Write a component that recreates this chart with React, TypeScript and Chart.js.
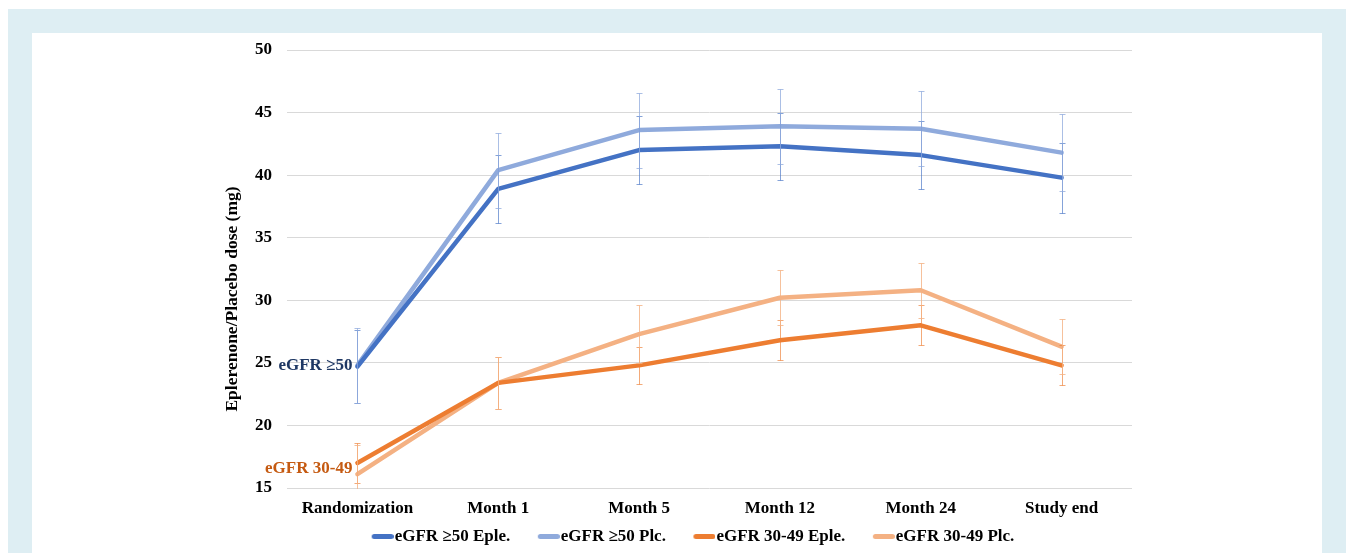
import React, { useEffect, useRef } from "react";
import { Chart, registerables } from "chart.js";

Chart.register(...registerables);

// ---- data ----
const categories = ["Randomization", "Month 1", "Month 5", "Month 12", "Month 24", "Study end"];
const seriesNames = ["eGFR ≥50 Eple.", "eGFR ≥50 Plc.", "eGFR 30-49 Eple.", "eGFR 30-49 Plc."];
const high50Eple = [24.7, 38.9, 42.0, 42.3, 41.6, 39.8];
const high50Plc = [24.8, 40.4, 43.6, 43.9, 43.7, 41.8];
const low3049Eple = [17.0, 23.4, 24.8, 26.8, 28.0, 24.8];
const low3049Plc = [16.1, 23.4, 27.3, 30.2, 30.8, 26.3];
const err50Eple = [2.9, 2.7, 2.7, 2.7, 2.7, 2.8];
const err50Plc = [3.0, 3.0, 3.0, 3.0, 3.0, 3.1];
const err3049Eple = [1.6, 2.1, 1.5, 1.6, 1.6, 1.6];
const err3049Plc = [2.3, 2.1, 2.3, 2.2, 2.2, 2.2];
const yMin = 15;
const yMax = 50;
const yStep = 5;
const groupLabels = ["eGFR ≥50", "eGFR 30-49"];
const yTitle = "Eplerenone/Placebo dose (mg)";

// ---- styles ----
const FONT = "'Times New Roman', 'Liberation Serif', serif";
const lineColors = ["#4472C4", "#8FAADC", "#ED7D31", "#F4B183"];
const errColors = ["rgba(68,114,196,0.65)", "rgba(143,170,220,0.75)", "rgba(237,125,49,0.65)", "rgba(244,177,131,0.8)"];
const groupColors = ["#1F3864", "#C55A11"];

// legend swatch: a short thick line placed at the right end of the (wider) legend box
function makeLegendImage(color: string): HTMLCanvasElement {
  const c = document.createElement("canvas");
  c.width = 49;
  c.height = 7;
  const g = c.getContext("2d")!;
  g.strokeStyle = color;
  g.lineWidth = 5;
  g.lineCap = "round";
  g.beginPath();
  g.moveTo(29.5, 3.5);
  g.lineTo(46.5, 3.5);
  g.stroke();
  return c;
}

const errorBarPlugin = {
  id: "errorBars",
  afterDatasetsDraw(chart: any) {
    const { ctx, chartArea, scales } = chart;
    const x = scales.x;
    const y = scales.y;
    ctx.save();
    ctx.beginPath();
    ctx.rect(chartArea.left, chartArea.top, chartArea.right - chartArea.left, chartArea.bottom - chartArea.top + 1);
    ctx.clip();
    chart.data.datasets.forEach((ds: any) => {
      ctx.strokeStyle = ds.errorColor;
      ctx.lineWidth = 1;
      ds.data.forEach((v: number, j: number) => {
        const e = ds.errors[j];
        const px = Math.round(x.getPixelForValue(j)) + 0.5;
        const top = Math.round(y.getPixelForValue(v + e)) + 0.5;
        const bot = Math.round(y.getPixelForValue(v - e)) + 0.5;
        ctx.beginPath();
        ctx.moveTo(px, top);
        ctx.lineTo(px, bot);
        ctx.moveTo(px - 3, top);
        ctx.lineTo(px + 3, top);
        ctx.moveTo(px - 3, bot);
        ctx.lineTo(px + 3, bot);
        ctx.stroke();
      });
    });
    ctx.restore();
  },
};

const groupLabelPlugin = {
  id: "groupLabels",
  afterDatasetsDraw(chart: any) {
    const { ctx, scales } = chart;
    const x = scales.x;
    const y = scales.y;
    ctx.save();
    ctx.font = `bold 17px ${FONT}`;
    ctx.textAlign = "right";
    ctx.textBaseline = "middle";
    groupLabels.forEach((label, g) => {
      const a = chart.data.datasets[g * 2].data[0];
      const b = chart.data.datasets[g * 2 + 1].data[0];
      const px = x.getPixelForValue(0) - 5;
      const py = y.getPixelForValue((a + b) / 2);
      ctx.fillStyle = groupColors[g];
      ctx.fillText(label, px, py);
    });
    ctx.restore();
  },
};

const yTitlePlugin = {
  id: "yTitle",
  afterDraw(chart: any) {
    const { ctx, chartArea } = chart;
    ctx.save();
    ctx.font = `bold 17.5px ${FONT}`;
    ctx.fillStyle = "#000";
    ctx.textAlign = "center";
    ctx.textBaseline = "middle";
    ctx.translate(chartArea.left - 55, (chartArea.top + chartArea.bottom) / 2 + 30);
    ctx.rotate(-Math.PI / 2);
    ctx.fillText(yTitle, 0, 0);
    ctx.restore();
  },
};

export default function App() {
  const ref = useRef<HTMLCanvasElement>(null);

  useEffect(() => {
    const canvas = ref.current;
    if (!canvas) return;
    const series = [high50Eple, high50Plc, low3049Eple, low3049Plc];
    const errs = [err50Eple, err50Plc, err3049Eple, err3049Plc];
    const legendImages = lineColors.map(makeLegendImage);

    const chart = new Chart(canvas, {
      type: "line",
      data: {
        labels: categories,
        datasets: series.map((d, i) => ({
          label: seriesNames[i],
          data: d,
          errors: errs[i],
          errorColor: errColors[i],
          borderColor: lineColors[i],
          backgroundColor: lineColors[i],
          borderWidth: 4.5,
          borderJoinStyle: "round",
          borderCapStyle: "round",
          pointRadius: 0,
          pointHoverRadius: 0,
          tension: 0,
          fill: false,
        })) as any,
      },
      options: {
        responsive: false,
        animation: false,
        events: [],
        layout: { padding: { left: 202.5, right: 190, top: 17, bottom: 0 } },
        scales: {
          x: {
            type: "category",
            offset: true,
            grid: { display: false, drawTicks: false },
            border: { display: false },
            ticks: {
              color: "#000",
              font: { family: FONT, size: 17, weight: "bold" },
              padding: 10,
              maxRotation: 0,
              autoSkip: false,
            },
            afterFit(scale: any) {
              scale.height = 32;
            },
          },
          y: {
            min: yMin,
            max: yMax,
            grid: { color: "#D9D9D9", lineWidth: 1, drawTicks: false },
            border: { display: false },
            ticks: {
              stepSize: yStep,
              color: "#000",
              font: { family: FONT, size: 17, weight: "bold" },
              padding: 15,
            },
            afterFit(scale: any) {
              scale.width = 52.5;
              scale.paddingTop = 0;
              scale.paddingBottom = 0;
            },
          },
        },
        plugins: {
          tooltip: { enabled: false },
          legend: {
            position: "bottom",
            labels: {
              usePointStyle: true,
              pointStyleWidth: 34,
              padding: 8,
              color: "#000",
              font: { family: FONT, size: 17, weight: "bold" },
              generateLabels(ch: any) {
                const items = (Chart.defaults.plugins.legend.labels as any).generateLabels(ch);
                return items.map((it: any, i: number) => ({ ...it, pointStyle: legendImages[i] }));
              },
            },
          },
        },
      } as any,
      plugins: [errorBarPlugin, groupLabelPlugin, yTitlePlugin],
    });
    return () => chart.destroy();
  }, []);

  return (
    <div style={{ position: "fixed", left: 8, top: 9, right: 0, bottom: 0, background: "#DEEEF3" }}>
      <div
        style={{
          position: "absolute",
          left: 24,
          top: 24,
          right: 24,
          bottom: 0,
          background: "#FFFFFF",
          overflow: "hidden",
        }}
      >
        <canvas ref={ref} width={1290} height={522} style={{ display: "block" }} />
      </div>
    </div>
  );
}
